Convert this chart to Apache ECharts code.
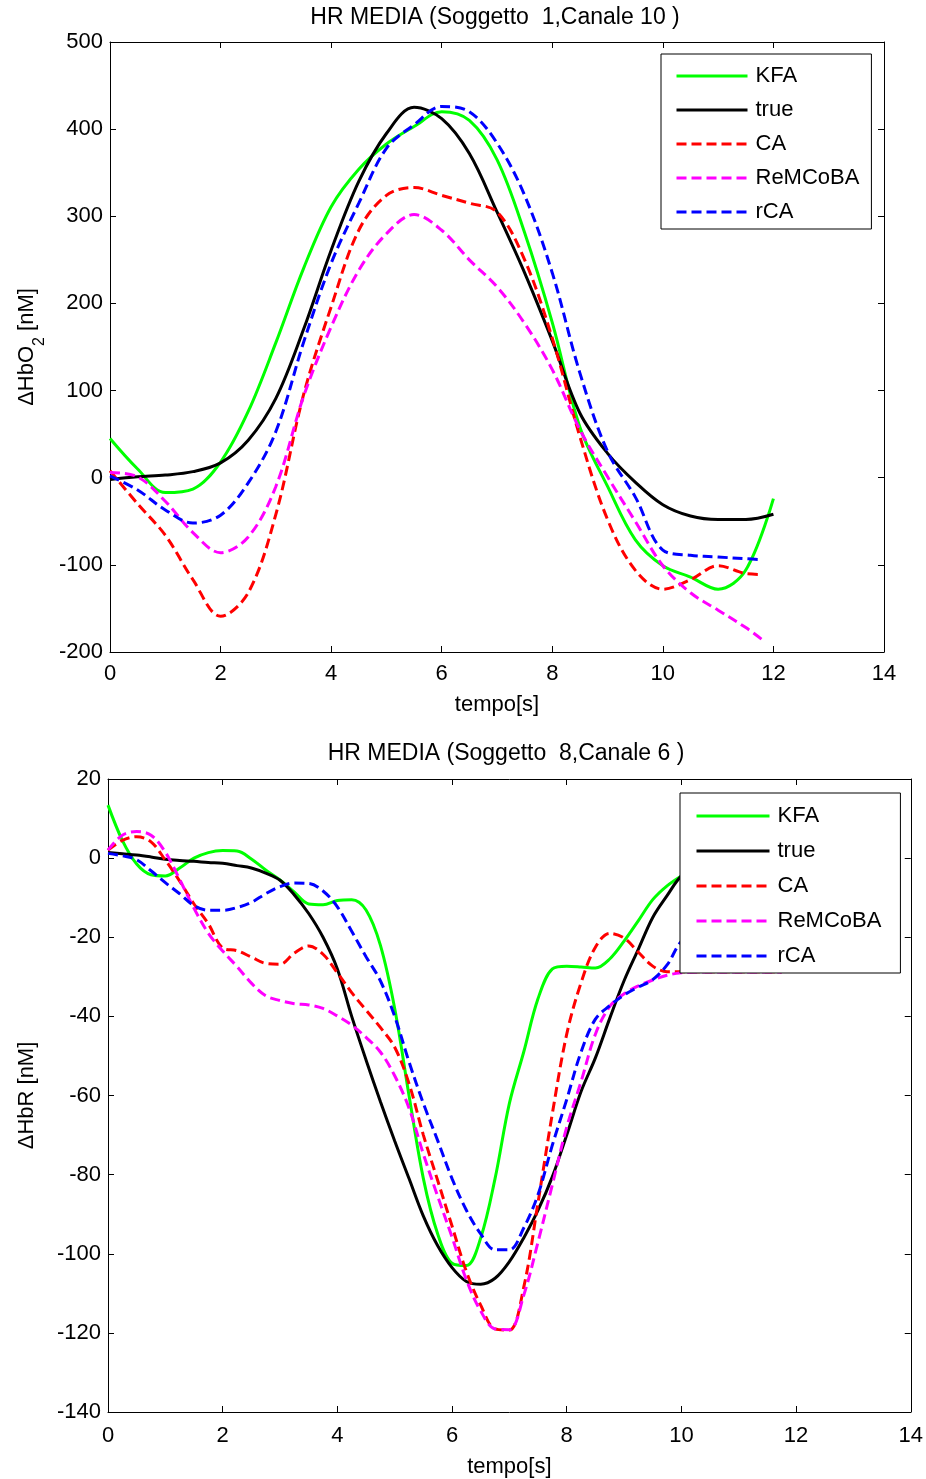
<!DOCTYPE html>
<html>
<head>
<meta charset="utf-8">
<script src="https://cdn.jsdelivr.net/npm/echarts@6/dist/echarts.min.js"></script>
<style>
html,body{margin:0;padding:0;background:#fff;}
#chart{width:926px;height:1479px;}
</style>
</head>
<body>
<div id="chart"></div>
<script>
// ---------- data ----------
const seriesNames = ['KFA', 'true', 'CA', 'ReMCoBA', 'rCA'];
const xTicks = [0, 2, 4, 6, 8, 10, 12, 14];

// top plot (Soggetto 1, Canale 10), HbO2
const tTop      = [0,0.5,1,1.5,2,2.5,3,3.5,4,4.5,5,5.5,6,6.5,7,7.5,8,8.5,9,9.5,10,10.5,11,11.5,12];
const tTopDash  = [0,0.5,1,1.5,2,2.5,3,3.5,4,4.5,5,5.5,6,6.5,7,7.5,8,8.5,9,9.5,10,10.5,11,11.5,11.8];
const topKFA    = [45,10,-17,-13,18,76,155,240,311,354,383,403,420,410,365,281,178,58,-10,-71,-101,-114,-128,-106,-24];
const topTrue   = [-2,1,3,7,17,43,91,170,261,340,395,425,412,372,305,235,157,74,28,-5,-31,-44,-48,-48,-42];
const topCA     = [8,-30,-66,-117,-159,-132,-42,95,196,284,324,333,324,315,305,250,160,47,-48,-106,-128,-117,-101,-110,-111];
const topReMCoBA= [6,1,-27,-63,-86,-68,-10,93,173,238,280,302,284,250,219,177,124,55,1,-50,-101,-132,-152,-172,-186];
const topRCA    = [2,-14,-37,-52,-43,-6,53,155,246,315,378,405,426,420,384,324,235,120,30,-22,-83,-89,-91,-93,-94];

// bottom plot (Soggetto 8, Canale 6), HbR
const tBot = [0,0.25,0.5,0.75,1,1.25,1.5,1.75,2,2.25,2.5,2.75,3,3.25,3.5,3.75,4,4.25,4.5,4.75,5,5.25,5.5,5.75,6,6.25,6.5,6.75,7,7.25,7.5,7.75,8,8.25,8.5,8.75,9,9.25,9.5,9.75,10,10.25,10.5,10.75,11,11.25,11.5,11.75,12];
const tBotDash = [0,0.25,0.5,0.75,1,1.25,1.5,1.75,2,2.25,2.5,2.75,3,3.25,3.5,3.75,4,4.25,4.5,4.75,5,5.25,5.5,5.75,6,6.25,6.5,6.75,7,7.25,7.5,7.75,8,8.25,8.5,8.75,9,9.25,9.5,9.75,10,10.25,10.5,10.75,11,11.25,11.5,11.75];
const botKFA  = [13.4,4.5,-1.5,-4.2,-4.5,-2.5,0,1.4,1.9,1.8,-0.2,-3,-5.5,-8.6,-11.6,-11.8,-10.7,-10.5,-13.1,-22,-38,-60,-81,-95,-102.4,-103,-96,-81,-62,-49,-35.5,-28,-27.3,-27.5,-27.8,-25.5,-21,-15.8,-10.5,-7,-4.5,-2.5,-1,0,1,1.5,2,2.5,3];
const botTrue = [1.4,1.1,0.8,0.3,-0.3,-0.6,-0.8,-1.1,-1.3,-1.9,-2.5,-3.8,-5.6,-9.3,-14,-20,-28,-40,-51,-61.5,-71.5,-81,-90.5,-98,-103.5,-107,-107.7,-106.2,-102,-96,-89,-80.5,-70,-59,-50.5,-40.5,-31,-23,-15,-9.5,-4.5,-2.5,-1.5,-1,-0.5,-0.2,0,0.2,0.3];
const botCA   = [2,4.5,5.4,4.1,-0.5,-5.8,-11.6,-16.6,-22.7,-23.4,-25,-26.6,-26.8,-24,-22.2,-24.3,-29,-34,-38.4,-42.8,-47.8,-57,-70,-81.5,-93,-104.5,-113,-119,-119.3,-108.5,-87,-64.5,-44.5,-31.5,-22.5,-19,-20.2,-23.8,-27.3,-28.7,-28.7,-28.7,-28.7,-28.7,-28.7,-28.7,-28.7,-28.7];
const botReMCoBA = [2,5.8,6.7,5.8,1.5,-5.4,-12.7,-19,-23.5,-27.4,-31.6,-34.8,-36,-36.8,-37.1,-38,-39.9,-42.2,-45.3,-49,-55,-63.2,-74.8,-85.5,-95.8,-106.6,-114.5,-119,-119.2,-110.5,-97,-82.5,-68,-56.5,-44.5,-37.5,-34.3,-32.3,-30.8,-29.6,-29,-28.8,-28.8,-28.8,-28.8,-28.8,-28.8,-28.8];
const botRCA  = [1.2,0.6,-0.4,-3.2,-6.2,-9,-12,-13.2,-13.2,-12.5,-11.2,-9,-7.2,-6.3,-6.4,-8.3,-12.3,-18.5,-24.9,-31,-40,-51.5,-62,-71.4,-81,-89,-95,-99,-99,-93.5,-85,-72.5,-61,-49,-40.7,-37.3,-34.6,-32.6,-30.7,-27,-21,-19,-17,-15.5,-14.5,-13.5,-13,-12.5];

// ---------- chart ----------
const FONT = '"Liberation Sans", Arial, Helvetica, sans-serif';
const colors = ['#00ff00', '#000000', '#ff0000', '#ff00ff', '#0000ff'];
const dash = [10, 5];
const lineTypes = ['solid', 'solid', dash, dash, dash];

function pairs(t, v) { return t.map((x, i) => [x, v[i]]); }

function xAxes(grid, name, margin, gap) {
  const base = {
    type: 'value', gridIndex: grid, min: 0, max: 14, interval: 2,
    splitLine: { show: false },
    axisLine: { show: true, onZero: false, lineStyle: { color: '#000', width: 1 } },
    axisTick: { show: true, inside: true, length: 6, lineStyle: { color: '#000', width: 1 } }
  };
  return [
    Object.assign({}, base, {
      position: 'bottom',
      axisLabel: { show: true, color: '#000', fontSize: 22, fontFamily: FONT, margin: margin },
      name: name, nameLocation: 'middle', nameGap: gap,
      nameTextStyle: { color: '#000', fontSize: 22, fontFamily: FONT }
    }),
    Object.assign({}, base, { position: 'top', axisLabel: { show: false } })
  ];
}

function yAxes(grid, min, max, interval, name, gap) {
  const base = {
    type: 'value', gridIndex: grid, min: min, max: max, interval: interval,
    splitLine: { show: false },
    axisLine: { show: true, onZero: false, lineStyle: { color: '#000', width: 1 } },
    axisTick: { show: true, inside: true, length: 6, lineStyle: { color: '#000', width: 1 } }
  };
  return [
    Object.assign({}, base, {
      position: 'left',
      axisLabel: { show: true, color: '#000', fontSize: 22, fontFamily: FONT, margin: 7 },
      name: name, nameLocation: 'middle', nameGap: gap, nameRotate: 90,
      nameTextStyle: {
        color: '#000', fontSize: 22, fontFamily: FONT,
        rich: {
          a: { fontSize: 22, fontFamily: FONT, color: '#000' },
          s: { fontSize: 16, fontFamily: FONT, color: '#000', verticalAlign: 'bottom', padding: [0, 0, -10, 0] }
        }
      }
    }),
    Object.assign({}, base, { position: 'right', axisLabel: { show: false } })
  ];
}

function makeSeries(xi, yi, ts, tsDash, vals) {
  return vals.map((v, i) => ({
    name: seriesNames[i],
    type: 'line',
    xAxisIndex: xi, yAxisIndex: yi,
    data: pairs(i < 2 ? ts : tsDash, v),
    symbol: 'none', showSymbol: false,
    smooth: 0.35,
    clip: true,
    lineStyle: { color: colors[i], width: 3, type: lineTypes[i] },
    itemStyle: { color: colors[i] },
    z: 2 + i * 0.01
  }));
}

function legend(left, top, gap, pad, iw) {
  return {
    orient: 'vertical', left: left, top: top,
    data: seriesNames,
    itemWidth: iw, itemHeight: 20, itemGap: gap,
    padding: pad,
    backgroundColor: '#fff', borderColor: '#000', borderWidth: 1,
    borderRadius: 0,
    itemStyle: { opacity: 0 },
    lineStyle: { width: 3 },
    textStyle: { color: '#000', fontSize: 22, fontFamily: FONT, padding: [0, 0, 0, 3] },
    selectedMode: false,
    z: 20
  };
}

const xa = xAxes(0, 'tempo[s]', 11, 42).concat(xAxes(1, 'tempo[s]', 13, 44));
const ya = yAxes(0, -200, 500, 100, '{a|\u0394HbO}{s|2}{a| [nM]}', 72)
  .concat(yAxes(1, -140, 20, 20, '\u0394HbR [nM]', 70));

const option = {
  animation: false,
  backgroundColor: '#ffffff',
  title: [
    { text: 'HR MEDIA (Soggetto  1,Canale 10 )', left: 495, top: 6, textAlign: 'center', padding: 0,
      textStyle: { color: '#000', fontSize: 23, fontWeight: 'normal', fontFamily: FONT } },
    { text: 'HR MEDIA (Soggetto  8,Canale 6 )', left: 506, top: 742, textAlign: 'center', padding: 0,
      textStyle: { color: '#000', fontSize: 23, fontWeight: 'normal', fontFamily: FONT } }
  ],
  grid: [
    { left: 110, top: 42, width: 774, height: 610, containLabel: false },
    { left: 108, top: 779, width: 804, height: 633, containLabel: false }
  ],
  xAxis: xa,
  yAxis: ya,
  legend: [
    legend(661, 54, 12, [11, 12, 6, 14], 71),
    legend(680, 793, 13, [12, 19, 6, 15], 73)
  ],
  series: makeSeries(0, 0, tTop, tTopDash, [topKFA, topTrue, topCA, topReMCoBA, topRCA])
    .concat(makeSeries(2, 2, tBot, tBotDash, [botKFA, botTrue, botCA, botReMCoBA, botRCA]))
};

const chart = echarts.init(document.getElementById('chart'), null, { renderer: 'canvas' });
chart.setOption(option);
</script>
</body>
</html>
